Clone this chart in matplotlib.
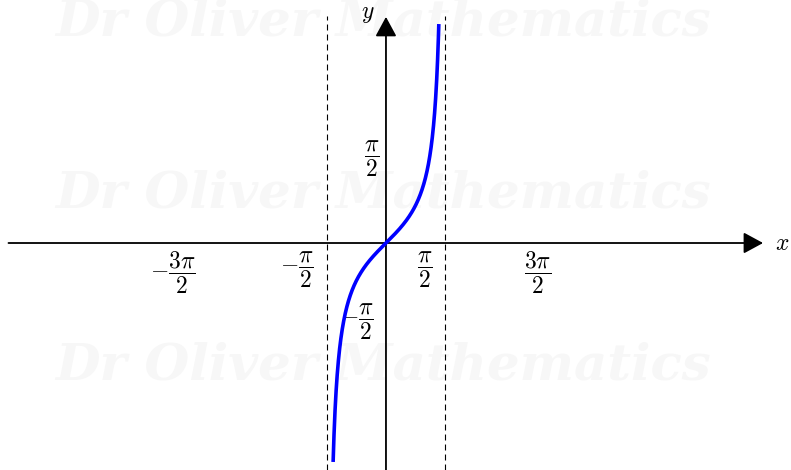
import numpy as np
import matplotlib
matplotlib.use('Agg')
import matplotlib.pyplot as plt

plt.rcParams['mathtext.fontset'] = 'cm'
plt.rcParams['font.family'] = 'DejaVu Serif'
plt.rcParams['lines.scale_dashes'] = False

# ---- data ----
x_ticks = [-3 * np.pi / 2, -np.pi / 2, np.pi / 2, 3 * np.pi / 2]
x_tick_labels = [r'$-\dfrac{3\pi}{2}$', r'$-\dfrac{\pi}{2}$', r'$\dfrac{\pi}{2}$', r'$\dfrac{3\pi}{2}$']
y_ticks = [np.pi / 2, -np.pi / 2]
y_tick_labels = [r'$\dfrac{\pi}{2}$', r'$-\dfrac{\pi}{2}$']
asymptotes = [-np.pi / 2, np.pi / 2]
y_clip = 5.8  # curve drawn for |tan x| <= y_clip

x_min, x_max = -10.225, 10.73
y_min, y_max = -6.013, 6.437

fig = plt.figure(figsize=(7.91, 4.70), dpi=100)
ax = fig.add_axes([0, 0, 1, 1])
ax.set_xlim(x_min, x_max)
ax.set_ylim(y_min, y_max)
ax.axis('off')

# watermark
for yw in [5.85, 1.3, -3.25]:
    ax.text(-0.08, yw, 'Dr Oliver Mathematics', fontsize=37, fontstyle='italic',
            fontweight='bold', family='DejaVu Serif', color='#f7f7f7',
            ha='center', va='center', zorder=0)

# vertical asymptotes
for a in asymptotes:
    ax.plot([a, a], [y_min, 6.0], color='black', lw=0.8,
            dashes=(4.3, 2.9), zorder=2)

# axes with arrow heads
head = '-|>,head_length=1.2,head_width=0.65'
ax.annotate('', xy=(9.99, 0), xytext=(-10.0, 0),
            arrowprops=dict(arrowstyle=head, color='black', lw=1.3,
                            shrinkA=0, shrinkB=0), zorder=3)
ax.annotate('', xy=(0, 5.99), xytext=(0, y_min),
            arrowprops=dict(arrowstyle=head, color='black', lw=1.3,
                            shrinkA=0, shrinkB=0), zorder=3)
ax.text(10.49, 0, r'$x$', fontsize=17, ha='center', va='center')
ax.text(-0.48, 6.07, r'$y$', fontsize=17, ha='center', va='center')

# tick labels
for t, lab in zip(x_ticks, x_tick_labels):
    ax.annotate(lab, xy=(t, 0), xytext=(-9, -5), textcoords='offset points',
                ha='right', va='top', fontsize=17)
ax.annotate(y_tick_labels[0], xy=(0, y_ticks[0]), xytext=(-5, 18),
            textcoords='offset points', ha='right', va='center', fontsize=17)
ax.annotate(y_tick_labels[1], xy=(0, y_ticks[1]), xytext=(-9, -14),
            textcoords='offset points', ha='right', va='center', fontsize=17)

# y = tan x
xe = np.arctan(y_clip)
xs = np.linspace(-xe, xe, 600)
ax.plot(xs, np.tan(xs), color='blue', lw=2.6, solid_capstyle='butt', zorder=4)

fig.savefig('out.png', dpi=100)
